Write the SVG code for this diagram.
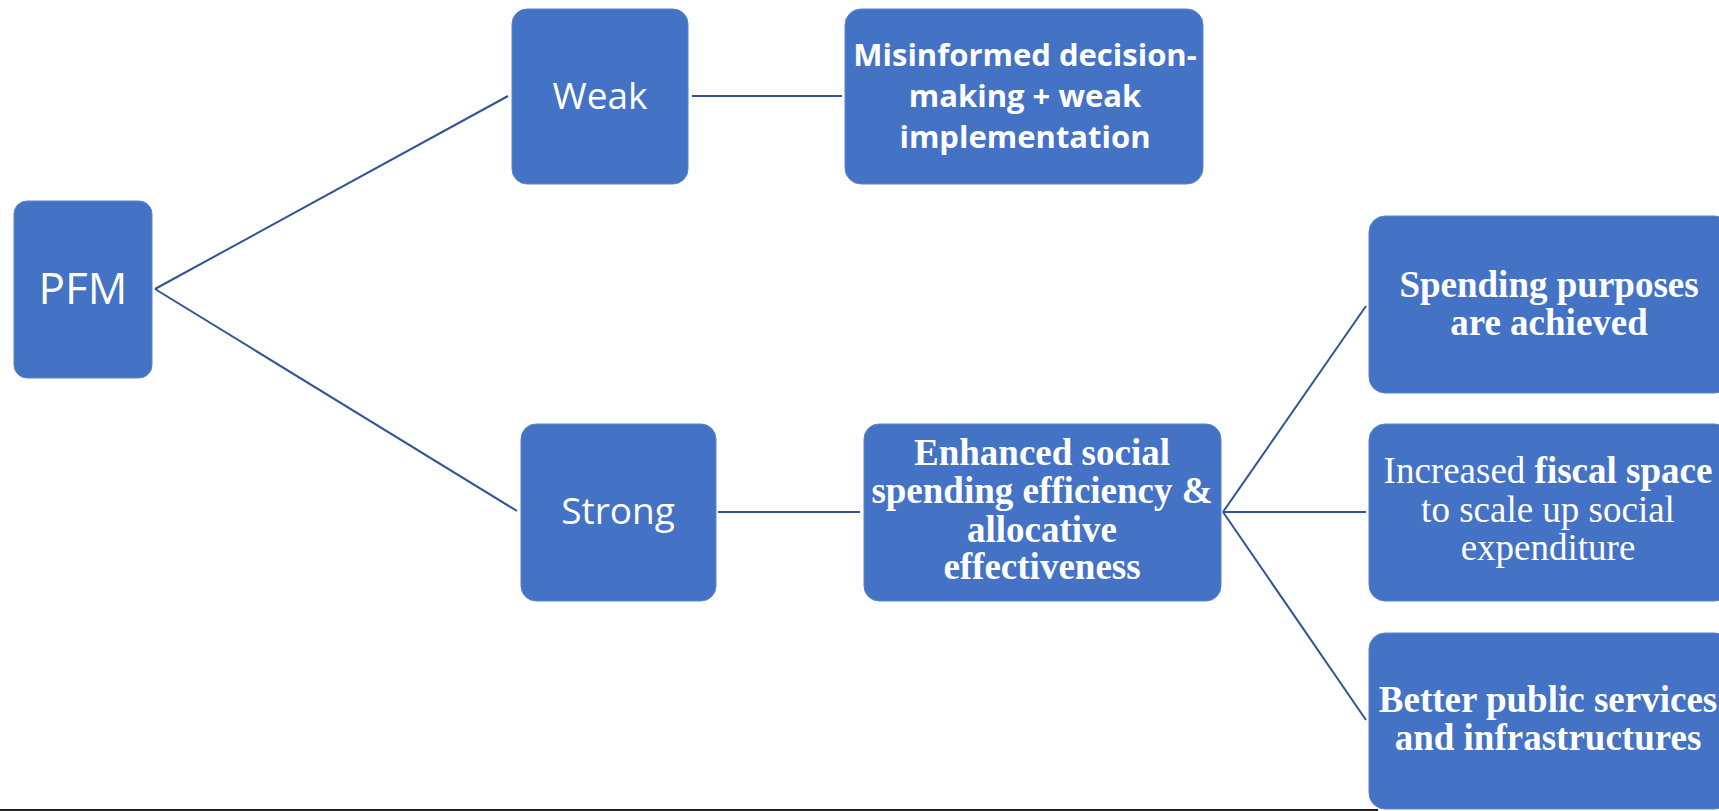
<svg xmlns="http://www.w3.org/2000/svg" width="1719" height="811" viewBox="0 0 1719 811">
<style>
.box{fill:#4472C4;stroke:#5B84CC;stroke-width:1}
.ln{stroke:#2F5597;stroke-width:2;fill:none}
.sans{font-family:"Open Sans","Noto Sans",sans-serif;fill:#fff;text-anchor:middle}
.sansb{font-family:"Open Sans","Noto Sans",sans-serif;font-weight:bold;fill:#fff;text-anchor:middle}
.serif{font-family:"Liberation Serif","Times New Roman",serif;fill:#fff;text-anchor:middle}
.serifb{font-family:"Liberation Serif","Times New Roman",serif;font-weight:bold;fill:#fff;text-anchor:middle}
</style>
<rect x="0" y="0" width="1719" height="811" fill="#fff"/>
<g id="connectors">
<line class="ln" x1="155" y1="289" x2="508" y2="96"/>
<line class="ln" x1="155" y1="289" x2="517" y2="511"/>
<line class="ln" x1="692" y1="96" x2="842" y2="96"/>
<line class="ln" x1="718" y1="512" x2="860" y2="512"/>
<line class="ln" x1="1223" y1="512" x2="1366" y2="306"/>
<line class="ln" x1="1223" y1="512" x2="1366" y2="512"/>
<line class="ln" x1="1223" y1="512" x2="1366" y2="720"/>
</g>
<g id="pfm">
<rect class="box" x="14" y="201" width="138" height="177" rx="13"/>
<text class="sans" x="83" y="304" font-size="44">PFM</text>
</g>
<g id="weak">
<rect class="box" x="512" y="9" width="176" height="175" rx="15"/>
<text class="sans" x="600" y="109" font-size="37">Weak</text>
</g>
<g id="misinformed">
<rect class="box" x="845" y="9" width="358" height="175" rx="16"/>
<text class="sansb" font-size="31"><tspan x="1025" y="66">Misinformed decision-</tspan><tspan x="1025" y="107">making + weak</tspan><tspan x="1025" y="148">implementation</tspan></text>
</g>
<g id="strong">
<rect class="box" x="521" y="424" width="195" height="177" rx="15"/>
<text class="sans" x="618" y="524" font-size="37">Strong</text>
</g>
<g id="enhanced">
<rect class="box" x="864" y="424" width="357" height="177" rx="15"/>
<text class="serifb" font-size="37"><tspan x="1042" y="465">Enhanced social</tspan><tspan x="1042" y="503">spending efficiency &amp;</tspan><tspan x="1042" y="542">allocative</tspan><tspan x="1042" y="579">effectiveness</tspan></text>
</g>
<g id="spending">
<rect class="box" x="1369" y="216" width="362" height="177" rx="16"/>
<text class="serifb" font-size="37"><tspan x="1549" y="297">Spending purposes</tspan><tspan x="1549" y="335">are achieved</tspan></text>
</g>
<g id="fiscal">
<rect class="box" x="1369" y="424" width="362" height="177" rx="16"/>
<text class="serif" font-size="37"><tspan x="1548" y="483">Increased <tspan font-weight="bold">fiscal space</tspan></tspan><tspan x="1548" y="522">to scale up social</tspan><tspan x="1548" y="560">expenditure</tspan></text>
</g>
<g id="better">
<rect class="box" x="1369" y="633" width="362" height="176" rx="16"/>
<text class="serifb" font-size="37"><tspan x="1548" y="712">Better public services</tspan><tspan x="1548" y="750">and infrastructures</tspan></text>
</g>
<line x1="0" y1="810" x2="1378" y2="810" stroke="#222" stroke-width="2"/>
</svg>
